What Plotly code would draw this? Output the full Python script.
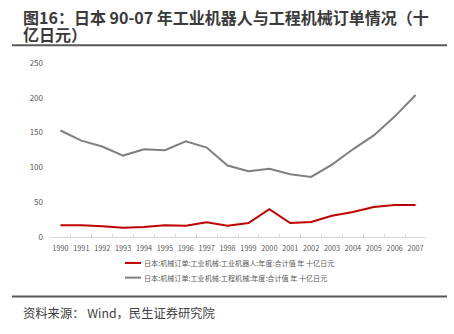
import plotly.graph_objects as go

years = [str(y) for y in range(1990, 2008)]
robots = [17, 17, 15.3, 13.4, 14.3, 17, 16, 21, 16.3, 20, 40, 20, 21.5, 30.5, 36, 43, 46, 46]
construction = [153, 138.5, 130, 117, 126, 124.6, 137.5, 128.5, 102.7, 94.5, 97.9, 90.3, 86.4, 104, 126, 146, 173, 204]
series_names = [
    "日本:机械订单:工业机械:工业机器人:年度:合计值 年 十亿日元",
    "日本:机械订单:工业机械:工程机械:年度:合计值 年 十亿日元",
]
series_colors = ["#c00000", "#7f7f7f"]
y_ticks = [0, 50, 100, 150, 200, 250]

W, H = 454, 334
L, R, T, B = 50, 426, 62.7, 237

def px(x):
    return (x - L) / (R - L)

def py(y):
    return (B - y) / (B - T)

fig = go.Figure()
for vals, name, color in zip([robots, construction], series_names, series_colors):
    fig.add_trace(go.Scatter(x=years, y=vals, mode="lines", name=name,
                             line=dict(color=color, width=2), showlegend=False))

font_cjk = "Noto Sans CJK SC"
annotations = [
    dict(text="<b>图16：日本 90-07 年工业机器人与工程机械订单情况（十</b>", x=px(21), y=py(16.3),
         xanchor="left", yanchor="middle", font=dict(size=16, color="#3a3a3a", family=font_cjk)),
    dict(text="<b>亿日元）</b>", x=px(21), y=py(33.5),
         xanchor="left", yanchor="middle", font=dict(size=16, color="#3a3a3a", family=font_cjk)),
    dict(text="资料来源： Wind，民生证券研究院", x=px(21), y=py(313),
         xanchor="left", yanchor="middle", font=dict(size=12.3, color="#404040", family=font_cjk)),
]
shapes = [
    dict(type="line", x0=px(12), x1=px(447), y0=py(45), y1=py(45), xref="paper", yref="paper",
         line=dict(color="#595959", width=2)),
    dict(type="line", x0=px(12), x1=px(447), y0=py(296.5), y1=py(296.5), xref="paper", yref="paper",
         line=dict(color="#595959", width=2)),
]
# legend drawn as short line samples with labels
for i, (name, color) in enumerate(zip(series_names, series_colors)):
    yy = 263 + i * 14.7
    shapes.append(dict(type="line", x0=px(125), x1=px(141), y0=py(yy), y1=py(yy),
                       xref="paper", yref="paper", line=dict(color=color, width=2)))
    annotations.append(dict(text=name, x=px(142), y=py(yy), xanchor="left", yanchor="middle",
                            font=dict(size=7.1, color="#595959", family=font_cjk)))
for a in annotations:
    a.update(xref="paper", yref="paper", showarrow=False)

fig.update_layout(
    width=W, height=H,
    margin=dict(l=L, r=W - R, t=T, b=H - B, pad=0),
    paper_bgcolor="white", plot_bgcolor="white",
    annotations=annotations, shapes=shapes,
    xaxis=dict(type="category", range=[-0.5, 17.5], showgrid=False, showline=True,
               linecolor="#d9d9d9", linewidth=1, ticks="inside", tickson="boundaries",
               ticklen=3, tickcolor="#d9d9d9", tickangle=0, ticklabelstandoff=4,
               tickfont=dict(size=7.3, color="#595959", family=font_cjk), zeroline=False),
    yaxis=dict(range=[0, 250], tickvals=y_ticks, showgrid=False, showline=False, zeroline=False,
               ticks="", ticklabelstandoff=6,
               tickfont=dict(size=8, color="#595959", family=font_cjk)),
)
fig.write_html("out.html")
